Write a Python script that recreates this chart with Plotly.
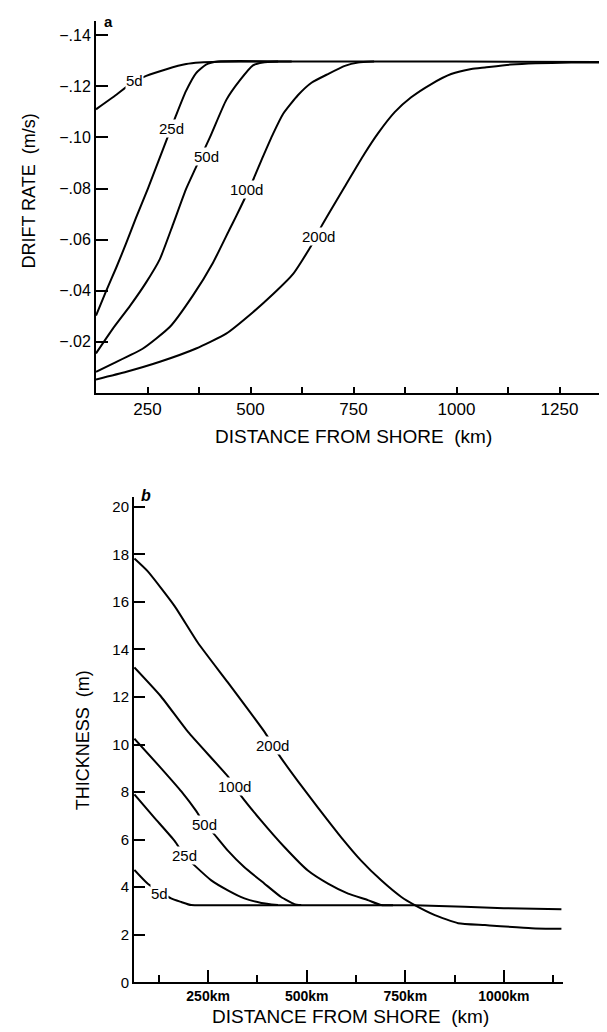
import plotly.graph_objects as go

# ---------------- Panel a: drift rate (m/s) vs distance (km) ----------------
a_series = ["5d", "25d", "50d", "100d", "200d"]
a_x = {
    "5d":   [125, 166, 215, 247, 296, 344, 377, 420, 600, 1000, 1375],
    "25d":  [125, 149, 174, 198, 222, 251, 288, 319, 343, 368, 392, 421, 600],
    "50d":  [125, 166, 208, 246, 280, 312, 343, 365, 402, 441, 474, 506, 530, 567],
    "100d": [125, 166, 239, 304, 360, 409, 449, 465, 500, 530, 555, 579, 615, 648, 688, 729, 761, 800],
    "200d": [125, 199, 280, 368, 441, 506, 555, 603, 647, 672, 729, 777, 809, 850, 890, 939, 987, 1036,
             1069, 1132, 1278, 1375],
}
a_y = {
    "5d":   [-0.111, -0.1157, -0.1216, -0.1241, -0.1267, -0.1287, -0.1293, -0.1296, -0.1297, -0.1297, -0.1295],
    "25d":  [-0.0303, -0.0397, -0.0490, -0.0585, -0.0685, -0.0800, -0.0955, -0.1085, -0.1180, -0.1252,
             -0.1285, -0.1297, -0.1297],
    "50d":  [-0.0155, -0.0252, -0.0342, -0.0431, -0.0524, -0.0660, -0.0796, -0.0874, -0.1002, -0.1146,
             -0.1223, -0.1282, -0.1293, -0.1297],
    "100d": [-0.0083, -0.0115, -0.0174, -0.0258, -0.0381, -0.0510, -0.0640, -0.0691, -0.0810, -0.0924,
             -0.1015, -0.1092, -0.1165, -0.1214, -0.1248, -0.1280, -0.1293, -0.1297],
    "200d": [-0.0053, -0.0083, -0.0122, -0.0174, -0.0232, -0.0316, -0.0387, -0.0465, -0.0575, -0.0652,
             -0.0808, -0.0937, -0.1015, -0.1099, -0.1157, -0.1209, -0.1248, -0.1268, -0.1274, -0.1285,
             -0.1293, -0.1293],
}
a_label_x = {"5d": 219, "25d": 308, "50d": 393, "100d": 490, "200d": 664}
a_label_y = {"5d": -0.1222, "25d": -0.1034, "50d": -0.0924, "100d": -0.0795, "200d": -0.0614}
a_xticks = [250, 500, 750, 1000, 1250]
a_xticktext = ["250", "500", "750", "1000", "1250"]
a_xminor = [375, 625, 875, 1125, 1375]
a_yticks = [-0.14, -0.12, -0.10, -0.08, -0.06, -0.04, -0.02]
a_yticktext = ["−.14", "−.12", "−.10", "−.08", "−.06", "−.04", "−.02"]

# ---------------- Panel b: thickness (m) vs distance (km) ----------------
b_series = ["5d", "25d", "50d", "100d", "200d"]
b_x = {
    "5d":   [63, 97, 156, 182, 207, 258, 500, 774, 900, 1000, 1146],
    "25d":  [63, 114, 165, 190, 216, 258, 300, 342, 385, 427],
    "50d":  [63, 131, 182, 220, 241, 262, 300, 342, 393, 435, 469, 486],
    "100d": [63, 130, 199, 300, 317, 334, 385, 444, 503, 554, 605, 655, 689, 719],
    "200d": [63, 97, 165, 224, 300, 393, 414, 427, 478, 529, 588, 638, 689, 740, 774, 825, 884, 952,
             1070, 1146],
}
b_y = {
    "5d":   [4.73, 4.15, 3.53, 3.38, 3.25, 3.24, 3.24, 3.24, 3.18, 3.12, 3.07],
    "25d":  [7.9, 6.92, 5.95, 5.33, 4.91, 4.29, 3.87, 3.53, 3.34, 3.25],
    "50d":  [10.25, 9.0, 8.03, 7.2, 6.65, 6.3, 5.54, 4.84, 4.15, 3.59, 3.29, 3.25],
    "100d": [13.24, 12.03, 10.53, 8.66, 8.24, 7.83, 6.79, 5.68, 4.70, 4.15, 3.73, 3.46, 3.25, 3.24],
    "200d": [17.82, 17.28, 15.82, 14.28, 12.61, 10.53, 9.98, 9.63, 8.45, 7.34, 6.09, 5.12, 4.29, 3.59,
             3.25, 2.83, 2.49, 2.41, 2.28, 2.25],
}
b_label_x = {"5d": 127, "25d": 190, "50d": 241, "100d": 317, "200d": 414}
b_label_y = {"5d": 3.73, "25d": 5.33, "50d": 6.65, "100d": 8.24, "200d": 9.98}
b_xticks = [250, 500, 750, 1000]
b_xticktext = ["<b>250km</b>", "<b>500km</b>", "<b>750km</b>", "<b>1000km</b>"]
b_xminor = [125, 375, 625, 875, 1125]
b_yticks = [0, 2, 4, 6, 8, 10, 12, 14, 16, 18, 20]
b_yticktext = [str(v) for v in b_yticks]

FONT = "Liberation Sans, Arial, sans-serif"
W, H = 607, 1032

fig = go.Figure()
for s in a_series:
    fig.add_trace(go.Scatter(x=a_x[s], y=a_y[s], mode="lines", xaxis="x", yaxis="y",
                             line=dict(color="black", width=2, shape="spline", smoothing=0.5),
                             showlegend=False, hoverinfo="skip"))
for s in b_series:
    fig.add_trace(go.Scatter(x=b_x[s], y=b_y[s], mode="lines", xaxis="x2", yaxis="y2",
                             line=dict(color="black", width=2, shape="spline", smoothing=0.5),
                             showlegend=False, hoverinfo="skip"))

ann = []
for s in a_series:
    ann.append(dict(x=a_label_x[s], y=a_label_y[s], xref="x", yref="y", text=s, showarrow=False,
                    bgcolor="white", borderpad=0, font=dict(size=15, color="black", family=FONT)))
for s in b_series:
    ann.append(dict(x=b_label_x[s], y=b_label_y[s], xref="x2", yref="y2", text=s, showarrow=False,
                    bgcolor="white", borderpad=0, font=dict(size=15, color="black", family=FONT)))

def px(xp, yp):
    return xp / W, 1 - yp / H

# panel letters and axis titles
for txt, (xp, yp), ang, sz in [
    ("<b>a</b>", (101, 14), 0, 15),
    ("<b><i>b</i></b>", (138, 491), 0, 16),
    ("DISTANCE FROM SHORE  (km)", (345, 432), 0, 19),
    ("DRIFT RATE  (m/s)", (21, 185), -90, 18),
    ("DISTANCE FROM SHORE  (km)", (342, 1016), 0, 19),
    ("THICKNESS  (m)", (75, 738), -90, 18),
]:
    xx, yy = px(xp, yp)
    ann.append(dict(x=xx, y=yy, xref="paper", yref="paper", text=txt, showarrow=False,
                    textangle=ang, xanchor="center", yanchor="middle",
                    font=dict(size=sz, color="black", family=FONT)))

axis_common = dict(showline=True, linecolor="black", linewidth=2, showgrid=False, zeroline=False,
                   ticks="inside", tickcolor="black", tickwidth=2, mirror=False)

fig.update_layout(
    width=W, height=H, margin=dict(l=0, r=0, t=0, b=0),
    paper_bgcolor="white", plot_bgcolor="white",
    xaxis=dict(**axis_common, domain=[88 / W, 603 / W], range=[125, 1375], anchor="y",
               tickmode="array", tickvals=a_xticks, ticktext=a_xticktext, ticklen=6,
               tickfont=dict(size=17, color="black", family=FONT),
               minor=dict(ticks="inside", tickvals=a_xminor, ticklen=6, tickwidth=2, tickcolor="black")),
    yaxis=dict(**axis_common, domain=[1 - 388 / H, 1 - 13 / H], range=[0, -0.1456], anchor="x",
               tickmode="array", tickvals=a_yticks, ticktext=a_yticktext, ticklen=12,
               tickfont=dict(size=16, color="black", family=FONT)),
    xaxis2=dict(**axis_common, domain=[126 / W, 555 / W], range=[62, 1150], anchor="y2",
                tickmode="array", tickvals=b_xticks, ticktext=b_xticktext, ticklen=12,
                tickfont=dict(size=14, color="black", family=FONT),
                minor=dict(ticks="inside", tickvals=b_xminor, ticklen=7, tickwidth=2, tickcolor="black")),
    yaxis2=dict(**axis_common, domain=[1 - 982 / H, 1 - 493 / H], range=[0, 20.4], anchor="x2",
                tickmode="array", tickvals=b_yticks, ticktext=b_yticktext, ticklen=11,
                tickfont=dict(size=15, color="black", family=FONT)),
    annotations=ann,
)

fig.write_html("out.html")
